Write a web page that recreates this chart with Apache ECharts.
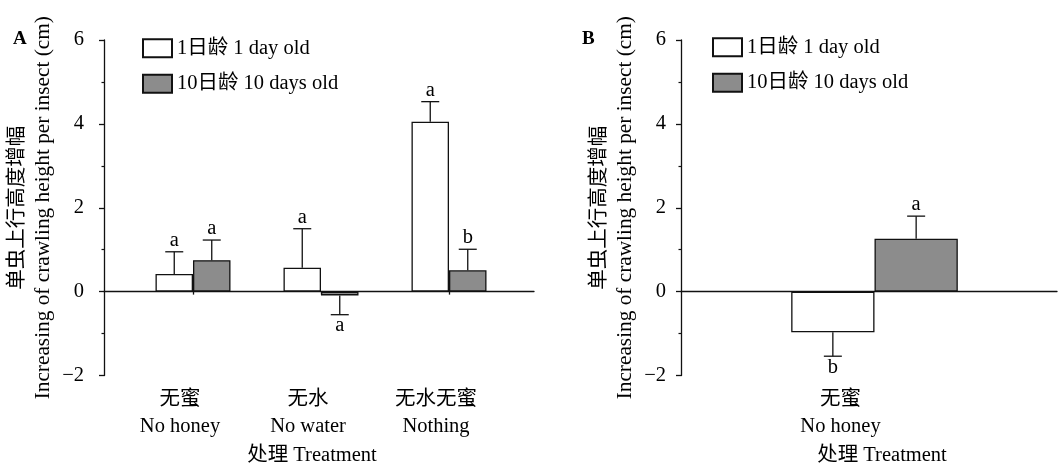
<!DOCTYPE html>
<html>
<head>
<meta charset="utf-8">
<script src="https://cdn.jsdelivr.net/npm/echarts@6/dist/echarts.min.js"></script>
<style>html,body{margin:0;padding:0;background:#fff;}#c{width:1058px;height:463px;}</style>
</head>
<body>
<div id="c"></div>
<script>
// ---- Data ----
const categoriesA = ['无蜜\nNo honey', '无水\nNo water', '无水无蜜\nNothing'];
const categoriesB = ['无蜜\nNo honey'];
const seriesNames = ['1日龄 1 day old', '10日龄 10 days old'];
const youngA = [0.42, 0.57, 4.05];
const youngA_se = [0.53, 0.93, 0.48];
const youngA_sig = ['a', 'a', 'a'];
const oldA = [0.75, -0.09, 0.51];
const oldA_se = [0.48, 0.46, 0.50];
const oldA_sig = ['a', 'a', 'b'];
const youngB = [-0.97];
const youngB_se = [0.57];
const youngB_sig = ['b'];
const oldB = [1.26];
const oldB_se = [0.54];
const oldB_sig = ['a'];
const yTicks = [-2, 0, 2, 4, 6];
const yName = ['单虫上行高度增幅', 'Increasing of crawling height per insect (cm)'];
const xName = '处理 Treatment';

// ---- Styles ----
const SERIF = '"Liberation Serif", "Noto Sans CJK SC", serif';
const INK = '#111';
const GRAY = '#8c8c8c';
const FS = 20.5;
const barWA = 37.5, barWB = 83.3;
const TOP = 40, BOTTOM = 87.5;

const chart = echarts.init(document.getElementById('c'), null, {renderer: 'canvas'});

function fmtY(v) { return v < 0 ? '\u2212' + Math.abs(v) : String(v); }

function visibleY(grid, margin) {
  return {
    gridIndex: grid, type: 'value', min: yTicks[0], max: yTicks[yTicks.length - 1], interval: 2,
    axisLine: {show: true, onZero: false, lineStyle: {color: INK, width: 1.3}},
    axisTick: {show: true, length: 5, lineStyle: {color: INK, width: 1.3}},
    minorTick: {show: true, splitNumber: 2, length: 2.5, lineStyle: {color: INK, width: 1.2}},
    axisLabel: {formatter: fmtY, fontSize: FS, fontFamily: SERIF, color: '#000', margin: margin},
    splitLine: {show: false},
    name: '{cn|' + yName[0] + '}\n{en|' + yName[1] + '}',
    nameLocation: 'middle', nameGap: 36,
    nameTextStyle: {
      color: '#000', fontFamily: SERIF, lineHeight: 29,
      rich: {
        cn: {fontSize: 20.5, fontFamily: '"Noto Sans CJK SC", sans-serif', lineHeight: 29, color: '#000'},
        en: {fontSize: 21.3, fontFamily: SERIF, lineHeight: 29, color: '#000'}
      }
    }
  };
}
function hiddenY(grid) {
  return {gridIndex: grid, type: 'value', min: yTicks[0], max: yTicks[yTicks.length - 1], interval: 2, show: false};
}
function zeroLineX(grid) {
  return {
    gridIndex: grid, type: 'value', min: 0, max: 1,
    axisLine: {show: true, onZero: true, lineStyle: {color: INK, width: 1.3}},
    axisTick: {show: false}, axisLabel: {show: false}, splitLine: {show: false}
  };
}
function labelX(grid, cats, shiftPad, namePad) {
  return {
    gridIndex: grid, type: 'category', data: cats, position: 'bottom',
    axisLine: {show: false, onZero: false}, axisTick: {show: false},
    axisLabel: {fontSize: FS, fontFamily: SERIF, color: '#000', margin: 11, lineHeight: 27, padding: shiftPad, interval: 0},
    splitLine: {show: false},
    name: xName, nameLocation: 'middle', nameGap: 67,
    nameTextStyle: {fontSize: FS, fontFamily: SERIF, color: '#000', padding: namePad}
  };
}
function tickX(grid, cats) {
  return {
    gridIndex: grid, type: 'category', data: cats, position: 'bottom',
    axisLine: {show: false, onZero: true},
    axisTick: {show: true, alignWithLabel: true, length: 3, lineStyle: {color: INK, width: 1.3}},
    axisLabel: {show: false}, splitLine: {show: false}
  };
}

function barSeries(name, values, xi, yi, color, bw) {
  return {
    name: name, type: 'bar', xAxisIndex: xi, yAxisIndex: yi, data: values,
    barWidth: bw, barGap: '0%', z: 2,
    itemStyle: {color: color, borderColor: INK, borderWidth: 1.3}
  };
}
function errSeries(name, values, se, sig, xi, yi, side, bw) {
  return {
    name: name, type: 'custom', xAxisIndex: xi, yAxisIndex: yi, z: 3,
    data: values.map((m, i) => [i, m, se[i]]),
    encode: {x: 0, y: 1},
    silent: true,
    renderItem: function (params, api) {
      const i = api.value(0), m = api.value(1), s = api.value(2);
      const dir = m >= 0 ? 1 : -1;
      const p0 = api.coord([i, m]);
      const p1 = api.coord([i, m + dir * s]);
      const x = p0[0] + side * bw / 2;
      const cap = 9;
      return {
        type: 'group',
        children: [
          {type: 'line', shape: {x1: x, y1: p0[1], x2: x, y2: p1[1]}, style: {stroke: INK, lineWidth: 1.3}},
          {type: 'line', shape: {x1: x - cap, y1: p1[1], x2: x + cap, y2: p1[1]}, style: {stroke: INK, lineWidth: 1.3}},
          {type: 'text', x: x, y: dir > 0 ? p1[1] - 1 : p1[1] + 1,
            style: {text: sig[params.dataIndex], align: 'center', verticalAlign: dir > 0 ? 'bottom' : 'top',
              fontSize: FS, fontFamily: SERIF, fill: '#000'}}
        ]
      };
    }
  };
}

function legendAt(left, top) {
  return {
    left: left, top: top, orient: 'vertical', itemWidth: 29, itemHeight: 18, itemGap: 15,
    icon: 'rect', data: seriesNames, selectedMode: false,
    textStyle: {fontSize: FS, fontFamily: SERIF, color: '#000'}
  };
}

const option = {
  backgroundColor: '#fff',
  animation: false,
  title: [
    {text: 'A', left: 8, top: 25, textStyle: {fontSize: 19, fontWeight: 'bold', fontFamily: SERIF, color: '#000'}},
    {text: 'B', left: 577, top: 25, textStyle: {fontSize: 19, fontWeight: 'bold', fontFamily: SERIF, color: '#000'}}
  ],
  legend: [legendAt(137, 33), legendAt(707, 32)],
  grid: [
    {left: 104, width: 430, top: TOP, bottom: BOTTOM, outerBoundsMode: 'none'},
    {left: 129, width: 384, top: TOP, bottom: BOTTOM, outerBoundsMode: 'none'},
    {left: 681, width: 376, top: TOP, bottom: BOTTOM, outerBoundsMode: 'none'},
    {left: 692, width: 365, top: TOP, bottom: BOTTOM, outerBoundsMode: 'none'}
  ],
  xAxis: [
    zeroLineX(0),
    labelX(1, categoriesA, [0, 26, 0, 0], [0, 18, 0, 0]),
    tickX(1, categoriesA),
    zeroLineX(2),
    labelX(3, categoriesB, [0, 68, 0, 0], [0, 0, 0, 15])
  ],
  yAxis: [visibleY(0, 20), hiddenY(1), visibleY(2, 15), hiddenY(3)],
  series: [
    barSeries(seriesNames[0], youngA, 1, 1, '#fff', barWA),
    barSeries(seriesNames[1], oldA, 1, 1, GRAY, barWA),
    errSeries(seriesNames[0], youngA, youngA_se, youngA_sig, 1, 1, -1, barWA),
    errSeries(seriesNames[1], oldA, oldA_se, oldA_sig, 1, 1, 1, barWA),
    barSeries(seriesNames[0], youngB, 4, 3, '#fff', barWB),
    barSeries(seriesNames[1], oldB, 4, 3, GRAY, barWB),
    errSeries(seriesNames[0], youngB, youngB_se, youngB_sig, 4, 3, -1, barWB),
    errSeries(seriesNames[1], oldB, oldB_se, oldB_sig, 4, 3, 1, barWB)
  ]
};
chart.setOption(option);
</script>
</body>
</html>
